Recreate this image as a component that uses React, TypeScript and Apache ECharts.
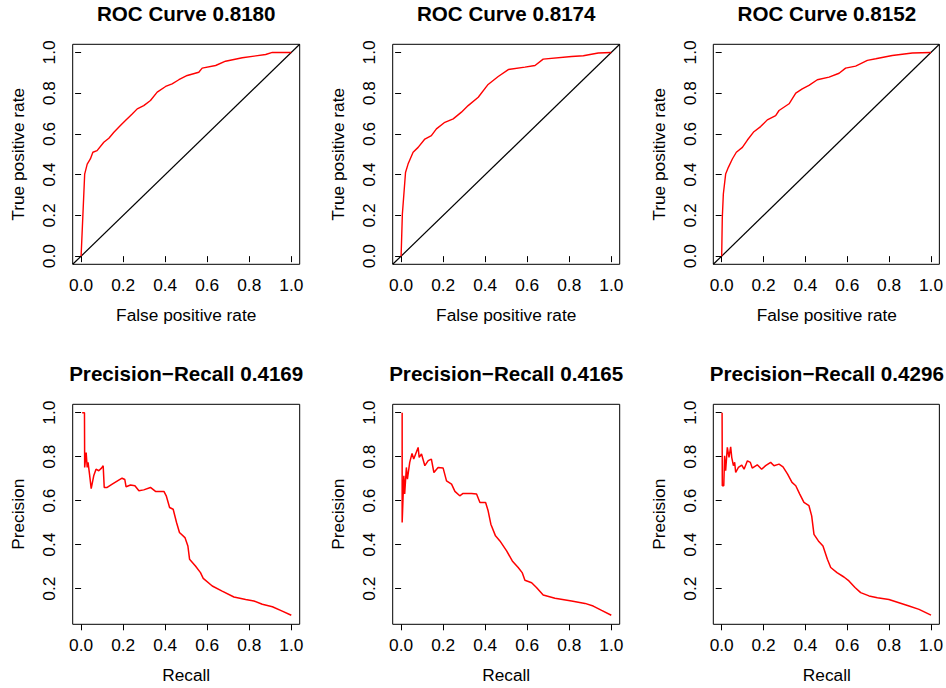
import React, { useEffect, useRef } from "react";
import * as echarts from "echarts";

// ---------- Data ----------
const ROC_TITLES = ["ROC Curve 0.8180", "ROC Curve 0.8174", "ROC Curve 0.8152"];
const PR_TITLES = ["Precision\u2212Recall 0.4169", "Precision\u2212Recall 0.4165", "Precision\u2212Recall 0.4296"];
const TICKS_01 = [0, 0.2, 0.4, 0.6, 0.8, 1.0];
const PR_Y_TICKS = [0.2, 0.4, 0.6, 0.8, 1.0];

const ROC1_FPR = [0, 0.017, 0.029, 0.044, 0.056, 0.076, 0.108, 0.132, 0.156, 0.187, 0.211, 0.243, 0.267, 0.298, 0.33, 0.362, 0.402, 0.433, 0.465, 0.505, 0.56, 0.576, 0.64, 0.687, 0.767, 0.878, 0.91, 1.0];
const ROC1_TPR = [0, 0.403, 0.452, 0.477, 0.51, 0.518, 0.559, 0.579, 0.608, 0.641, 0.666, 0.698, 0.723, 0.739, 0.764, 0.805, 0.833, 0.846, 0.866, 0.887, 0.903, 0.923, 0.936, 0.957, 0.974, 0.99, 1.0, 1.0];

const ROC2_FPR = [0, 0.006, 0.021, 0.033, 0.057, 0.081, 0.113, 0.144, 0.168, 0.208, 0.248, 0.287, 0.319, 0.367, 0.414, 0.462, 0.51, 0.589, 0.637, 0.676, 0.811, 0.867, 0.938, 1.0];
const ROC2_TPR = [0, 0.207, 0.411, 0.452, 0.51, 0.534, 0.575, 0.592, 0.625, 0.657, 0.674, 0.707, 0.739, 0.78, 0.843, 0.882, 0.916, 0.928, 0.936, 0.967, 0.98, 0.984, 0.997, 1.0];

const ROC3_FPR = [0, 0.003, 0.008, 0.019, 0.032, 0.051, 0.07, 0.099, 0.123, 0.154, 0.186, 0.218, 0.258, 0.274, 0.322, 0.354, 0.385, 0.417, 0.457, 0.513, 0.561, 0.592, 0.64, 0.696, 0.736, 0.815, 0.911, 1.0];
const ROC3_TPR = [0, 0.19, 0.305, 0.403, 0.436, 0.477, 0.51, 0.534, 0.57, 0.611, 0.636, 0.669, 0.69, 0.715, 0.748, 0.8, 0.821, 0.838, 0.866, 0.879, 0.898, 0.923, 0.933, 0.961, 0.969, 0.985, 0.997, 1.0];

const PR1_RECALL = [0.005, 0.016, 0.017, 0.024, 0.029, 0.033, 0.04, 0.048, 0.06, 0.071, 0.084, 0.097, 0.105, 0.11, 0.124, 0.148, 0.179, 0.195, 0.208, 0.214, 0.235, 0.256, 0.275, 0.298, 0.33, 0.354, 0.394, 0.405, 0.421, 0.438, 0.454, 0.468, 0.494, 0.508, 0.516, 0.544, 0.568, 0.581, 0.624, 0.671, 0.727, 0.783, 0.822, 0.862, 0.91, 0.957, 1.0];
const PR1_PRECISION = [1.0, 1.0, 0.751, 0.819, 0.751, 0.774, 0.721, 0.655, 0.713, 0.743, 0.736, 0.748, 0.759, 0.66, 0.66, 0.675, 0.693, 0.702, 0.696, 0.663, 0.671, 0.668, 0.645, 0.649, 0.66, 0.642, 0.642, 0.622, 0.569, 0.561, 0.501, 0.455, 0.432, 0.394, 0.334, 0.303, 0.273, 0.247, 0.212, 0.189, 0.162, 0.151, 0.144, 0.129, 0.118, 0.098, 0.079];

const PR2_RECALL = [0.005, 0.005, 0.013, 0.017, 0.025, 0.03, 0.041, 0.052, 0.06, 0.081, 0.086, 0.097, 0.113, 0.129, 0.144, 0.156, 0.176, 0.2, 0.216, 0.24, 0.256, 0.279, 0.295, 0.335, 0.359, 0.375, 0.402, 0.414, 0.427, 0.449, 0.47, 0.502, 0.529, 0.557, 0.576, 0.589, 0.621, 0.644, 0.676, 0.732, 0.811, 0.875, 0.914, 0.954, 1.0];
const PR2_PRECISION = [1.0, 0.501, 0.713, 0.63, 0.751, 0.698, 0.774, 0.815, 0.789, 0.842, 0.797, 0.812, 0.759, 0.782, 0.789, 0.728, 0.751, 0.748, 0.69, 0.675, 0.642, 0.622, 0.633, 0.633, 0.63, 0.592, 0.592, 0.554, 0.493, 0.44, 0.417, 0.372, 0.326, 0.296, 0.273, 0.238, 0.227, 0.205, 0.171, 0.156, 0.144, 0.133, 0.121, 0.101, 0.079];

const PR3_RECALL = [0.002, 0.003, 0.01, 0.014, 0.019, 0.027, 0.035, 0.043, 0.048, 0.056, 0.062, 0.067, 0.08, 0.096, 0.107, 0.123, 0.137, 0.146, 0.17, 0.191, 0.21, 0.234, 0.25, 0.274, 0.293, 0.315, 0.336, 0.354, 0.373, 0.393, 0.417, 0.43, 0.441, 0.462, 0.484, 0.505, 0.521, 0.551, 0.584, 0.608, 0.637, 0.664, 0.704, 0.744, 0.799, 0.847, 0.895, 0.943, 1.0];
const PR3_PRECISION = [1.0, 0.668, 0.668, 0.804, 0.736, 0.842, 0.797, 0.845, 0.797, 0.759, 0.774, 0.728, 0.751, 0.762, 0.743, 0.781, 0.774, 0.748, 0.763, 0.743, 0.759, 0.774, 0.759, 0.766, 0.754, 0.721, 0.683, 0.668, 0.63, 0.592, 0.577, 0.531, 0.447, 0.417, 0.394, 0.334, 0.296, 0.273, 0.253, 0.235, 0.205, 0.182, 0.167, 0.159, 0.151, 0.136, 0.121, 0.106, 0.08];

const ROC_X = [ROC1_FPR, ROC2_FPR, ROC3_FPR];
const ROC_Y = [ROC1_TPR, ROC2_TPR, ROC3_TPR];
const PR_X = [PR1_RECALL, PR2_RECALL, PR3_RECALL];
const PR_Y = [PR1_PRECISION, PR2_PRECISION, PR3_PRECISION];

// ---------- Layout ----------
const COL_LEFT = [72.7, 392.7, 713.3];
const ROW_TOP = [44.3, 404.3];
const BOX_W = 227;
const BOX_H = 220;
const FONT = "'Liberation Sans', Arial, Helvetica, sans-serif";
const BASE = 17.3;

const zip = (xs: number[], ys: number[]) => xs.map((x, i) => [x, ys[i]]);

export default function App() {
  const ref = useRef<HTMLDivElement>(null);
  useEffect(() => {
    if (!ref.current) return;
    const chart = echarts.init(ref.current, undefined, { renderer: "svg" });
    const grids: any[] = [];
    const xAxes: any[] = [];
    const yAxes: any[] = [];
    const series: any[] = [];
    const graphics: any[] = [];

    for (let r = 0; r < 2; r++) {
      for (let c = 0; c < 3; c++) {
        const idx = r * 3 + c;
        const left = COL_LEFT[c];
        const top = ROW_TOP[r];
        grids.push({
          left,
          top,
          width: BOX_W,
          height: BOX_H,
          show: true,
          borderColor: "#000",
          borderWidth: 1,
          backgroundColor: "transparent",
        });
        const tickCommon = {
          axisLine: { show: false },
          splitLine: { show: false },
          axisTick: { show: true, length: 6, lineStyle: { color: "#000", width: 1 } },
        };
        xAxes.push({
          type: "value",
          gridIndex: idx,
          min: -0.04,
          max: 1.04,
          ...tickCommon,
          axisTick: { ...tickCommon.axisTick, customValues: TICKS_01 },
          axisLabel: {
            customValues: TICKS_01,
            formatter: (v: number) => v.toFixed(1),
            color: "#000",
            fontFamily: FONT,
            fontSize: BASE,
            margin: 12,
          },
        });
        const yTicks = r === 0 ? TICKS_01 : PR_Y_TICKS;
        yAxes.push({
          type: "value",
          gridIndex: idx,
          min: r === 0 ? -0.04 : 0.038,
          max: r === 0 ? 1.04 : 1.038,
          ...tickCommon,
          axisTick: { ...tickCommon.axisTick, customValues: yTicks },
          axisLabel: {
            customValues: yTicks,
            formatter: (v: number) => v.toFixed(1),
            color: "#000",
            fontFamily: FONT,
            fontSize: BASE,
            rotate: 90,
            margin: 15,
          },
        });
        if (r === 0) {
          series.push({
            type: "line",
            xAxisIndex: idx,
            yAxisIndex: idx,
            data: [[-0.04, -0.04], [1.04, 1.04]],
            showSymbol: false,
            lineStyle: { color: "#000", width: 1.2 },
            silent: true,
          });
          series.push({
            type: "line",
            xAxisIndex: idx,
            yAxisIndex: idx,
            data: zip(ROC_X[c], ROC_Y[c]),
            showSymbol: false,
            lineStyle: { color: "#ff0000", width: 1.4 },
            silent: true,
          });
        } else {
          series.push({
            type: "line",
            xAxisIndex: idx,
            yAxisIndex: idx,
            data: zip(PR_X[c], PR_Y[c]),
            showSymbol: false,
            lineStyle: { color: "#ff0000", width: 1.5 },
            silent: true,
          });
        }
        const cx = left + BOX_W / 2;
        const cy = top + BOX_H / 2;
        graphics.push({
          type: "text",
          x: cx,
          y: top - 31,
          style: {
            text: r === 0 ? ROC_TITLES[c] : PR_TITLES[c],
            font: `bold 20.6px ${FONT}`,
            fill: "#000",
            textAlign: "center",
            textVerticalAlign: "middle",
            align: "center",
            verticalAlign: "middle",
          },
        });
        graphics.push({
          type: "text",
          x: cx,
          y: top + BOX_H + 50.7,
          style: {
            text: r === 0 ? "False positive rate" : "Recall",
            font: `${BASE}px ${FONT}`,
            fill: "#000",
            textAlign: "center",
            textVerticalAlign: "middle",
            align: "center",
            verticalAlign: "middle",
          },
        });
        graphics.push({
          type: "text",
          x: left - 54.5,
          y: cy,
          rotation: Math.PI / 2,
          style: {
            text: r === 0 ? "True positive rate" : "Precision",
            font: `${BASE}px ${FONT}`,
            fill: "#000",
            textAlign: "center",
            textVerticalAlign: "middle",
            align: "center",
            verticalAlign: "middle",
          },
        });
      }
    }

    chart.setOption({
      animation: false,
      backgroundColor: "#fff",
      grid: grids,
      xAxis: xAxes,
      yAxis: yAxes,
      series,
      graphic: graphics,
    });
    return () => chart.dispose();
  }, []);

  return (
    <div
      ref={ref}
      style={{ position: "fixed", left: 0, top: 0, width: 946, height: 688, background: "#fff" }}
    />
  );
}
